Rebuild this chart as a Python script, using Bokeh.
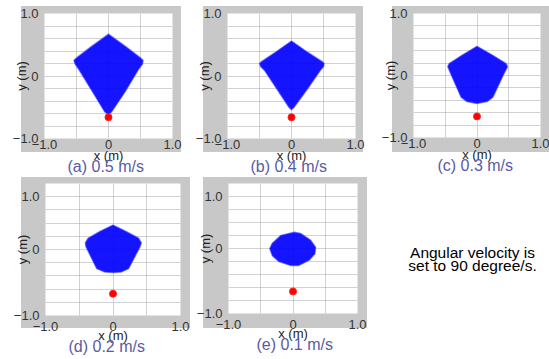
from bokeh.plotting import figure
from bokeh.layouts import column, row
from bokeh.models import Range1d, FixedTicker, Label, Title
from bokeh.embed import file_html
from bokeh.resources import INLINE

# ---------------- data ----------------
x_ticks = [-1.0, 0.0, 1.0]
x_tick_labels = ["\u22121.0", "0", "1.0"]
y_ticks_row1 = [-1.0, 0.0, 1.0]
y_ticks_row2 = [-1.0, 0.0, 0.8]
y_tick_labels = ["\u22121.0", "0", "1.0"]
x_grid_values = [-1.0, -0.5, 0.0, 0.5, 1.0]
y_grid_values = [-1.0, -0.8, -0.6, -0.4, -0.2, 0.0, 0.2, 0.4, 0.6, 0.8, 1.0]

captions = ["(a) 0.5 m/s", "(b) 0.4 m/s", "(c) 0.3 m/s", "(d) 0.2 m/s", "(e) 0.1 m/s"]

region_a_x = [0.0, -0.27, -0.50, -0.54, -0.52, -0.46, -0.25, -0.06, 0.0, 0.05, 0.26, 0.47, 0.53, 0.54, 0.50, 0.27]
region_a_y = [0.67, 0.47, 0.29, 0.25, 0.19, 0.10, -0.25, -0.57, -0.62, -0.57, -0.25, 0.11, 0.19, 0.25, 0.29, 0.47]
region_b_x = [0.0, -0.25, -0.47, -0.50, -0.48, -0.42, -0.22, -0.04, 0.0, 0.04, 0.24, 0.45, 0.50, 0.51, 0.48, 0.25]
region_b_y = [0.56, 0.38, 0.23, 0.20, 0.15, 0.09, -0.22, -0.50, -0.54, -0.50, -0.22, 0.09, 0.15, 0.20, 0.23, 0.38]
region_c_x = [0.0, -0.23, -0.44, -0.46, -0.41, -0.25, -0.16, 0.0, 0.16, 0.25, 0.42, 0.48, 0.46, 0.24]
region_c_y = [0.47, 0.33, 0.19, 0.14, 0.02, -0.35, -0.42, -0.45, -0.42, -0.35, 0.02, 0.14, 0.19, 0.33]
region_d_x = [0.0, -0.20, -0.37, -0.41, -0.40, -0.24, -0.12, 0.0, 0.12, 0.23, 0.40, 0.42, 0.38, 0.20]
region_d_y = [0.37, 0.27, 0.17, 0.10, 0.04, -0.29, -0.34, -0.35, -0.34, -0.29, 0.04, 0.10, 0.17, 0.27]
region_e_x = [0.02, -0.19, -0.32, -0.36, -0.32, -0.22, -0.04, 0.09, 0.25, 0.34, 0.35, 0.27, 0.12]
region_e_y = [0.25, 0.20, 0.08, 0.0, -0.11, -0.20, -0.26, -0.26, -0.18, -0.08, 0.02, 0.13, 0.23]

robot_x = [0.0, 0.0, 0.0, 0.0, 0.0]
robot_y = [-0.66, -0.66, -0.66, -0.67, -0.66]

note_lines = ["Angular velocity is", "set to 90 degree/s."]

regions_x = [region_a_x, region_b_x, region_c_x, region_d_x, region_e_x]
regions_y = [region_a_y, region_b_y, region_c_y, region_d_y, region_e_y]

# ---------------- layout / style ----------------
FONT = "Liberation Sans"
GRAY = "#c8c8c8"
CAPTION_COLOR = "#5a5aa6"

# frame size, borders (l, r, t, b), gray panel [left, top, w, h] inside the figure,
# caption offset from the frame's left edge
panels = [
    dict(fw=128, fh=125, l=44, r=20, t=12, b=39, gray=(21, 6, 160, 146), cap=23, row=1),
    dict(fw=128, fh=125, l=35, r=22, t=12, b=39, gray=(11, 6, 160, 146), cap=23, row=1),
    dict(fw=127, fh=124, l=36, r=9, t=13, b=39, gray=(15, 6, 157, 146), cap=24, row=1),
    dict(fw=135, fh=132, l=45, r=12, t=5, b=46, gray=(21, 1, 169, 151), cap=23, row=2),
    dict(fw=129, fh=130, l=36, r=12, t=7, b=46, gray=(11, 1, 164, 151), cap=28, row=2),
]


def make_panel(i):
    s = panels[i]
    gl, gt, gw, gh = s["gray"]
    p = figure(
        x_range=Range1d(-1, 1), y_range=Range1d(-1, 1),
        frame_width=s["fw"], frame_height=s["fh"],
        min_border_left=s["l"], min_border_right=s["r"],
        min_border_top=s["t"], min_border_bottom=s["b"],
        toolbar_location=None, output_backend="svg",
        border_fill_color=None, background_fill_color="white",
        outline_line_color=None, margin=0, title=None,
        styles={"background": f"linear-gradient({GRAY},{GRAY}) {gl}px {gt}px / {gw}px {gh}px no-repeat"},
    )
    yt = y_ticks_row1 if s["row"] == 1 else y_ticks_row2
    p.xaxis.ticker = FixedTicker(ticks=x_ticks)
    p.xaxis.major_label_overrides = dict(zip(x_ticks, x_tick_labels))
    p.yaxis.ticker = FixedTicker(ticks=yt)
    p.yaxis.major_label_overrides = dict(zip(yt, y_tick_labels))
    p.xgrid.ticker = FixedTicker(ticks=x_grid_values)
    p.ygrid.ticker = FixedTicker(ticks=y_grid_values)
    for g in (p.xgrid, p.ygrid):
        g.grid_line_color = "#a4a4a4"
        g.grid_line_dash = "1 1"
        g.grid_line_width = 1
    for ax in (p.xaxis, p.yaxis):
        ax.axis_line_color = None
        ax.major_tick_line_color = None
        ax.minor_tick_line_color = None
        ax.major_tick_out = 0
        ax.major_tick_in = 0
        ax.major_label_text_font = FONT
        ax.major_label_text_font_size = "13px"
        ax.major_label_text_color = "#333333"
        ax.axis_label_text_font = FONT
        ax.axis_label_text_font_size = "13px"
        ax.axis_label_text_font_style = "normal"
        ax.axis_label_text_color = "#222222"
    p.xaxis.axis_label = "x (m)"
    p.yaxis.axis_label = "y (m)"
    p.yaxis.major_label_standoff = 6
    p.yaxis.axis_label_standoff = -19
    if s["row"] == 1:
        p.xaxis.major_label_standoff = 1
        p.xaxis.axis_label_standoff = -4
    else:
        p.xaxis.major_label_standoff = 6
        p.xaxis.axis_label_standoff = -6

    p.patch(regions_x[i], regions_y[i], fill_color="#0000ff", fill_alpha=0.92,
            line_color="#2a2aff", line_alpha=0.55, line_width=1.5)
    p.scatter([robot_x[i]], [robot_y[i]], size=7, fill_color="#ff0000", line_color="#ff2020")

    p.add_layout(Title(text=captions[i], align="left", offset=s["cap"], vertical_align="top",
                       standoff=-15, text_font=FONT, text_font_size="16px",
                       text_font_style="normal", text_color=CAPTION_COLOR), "below")
    return p


figs = [make_panel(i) for i in range(5)]

# note text panel to the right of (e): a bare figure whose frame is its whole canvas
note = figure(
    x_range=Range1d(0, 180), y_range=Range1d(0, 183),
    frame_width=180, frame_height=183,
    min_border=0, x_axis_type=None, y_axis_type=None,
    toolbar_location=None, output_backend="svg", title=None,
    border_fill_color=None, background_fill_color=None,
    outline_line_color=None, margin=0,
)
note.xgrid.visible = False
note.ygrid.visible = False
note_pos = [(103, 114), (103, 101)]
for (nx, ny), line in zip(note_pos, note_lines):
    note.add_layout(Label(x=nx, y=ny, text=line, text_align="center",
                          text_baseline="alphabetic", text_font=FONT,
                          text_font_size="15.5px", text_color="#000000"))

root = column(
    row(figs[0], figs[1], figs[2], spacing=0, margin=0),
    row(figs[3], figs[4], note, spacing=0, margin=0),
    spacing=0, margin=0,
)

open("out.html", "w").write(file_html(root, INLINE))
